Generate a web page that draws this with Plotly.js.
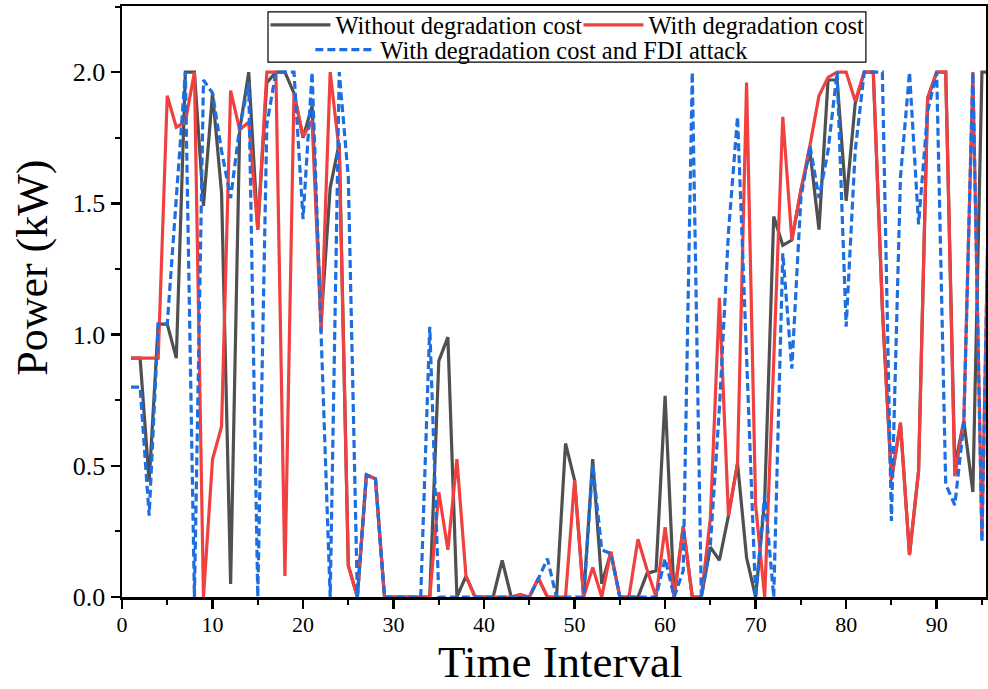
<!DOCTYPE html>
<html>
<head>
<meta charset="utf-8">
<script src="https://cdn.plot.ly/plotly-3.0.1.min.js"></script>
<style>html,body{margin:0;padding:0;background:#fff;}#chart{width:988px;height:689px;}</style>
</head>
<body>
<div id="chart"></div>
<script>
// Time intervals 1..96
const timeIntervals = Array.from({length: 96}, (_, i) => i + 1);

const seriesNames = ["Without degradation cost", "With degradation cost", "With degradation cost and FDI attack"];

const withoutDegradation = [
  0.91, 0.91, 0.44, 1.04, 1.04, 0.91, 2.00, 2.00, 1.49, 1.92,
  1.54, 0.05, 1.78, 2.00, 1.40, 1.96, 2.00, 2.00, 1.92, 1.75,
  1.87, 1.05, 1.56, 1.73, 0.12, 0.00, 0.465, 0.45, 0.00, 0.00,
  0.00, 0.00, 0.00, 0.00, 0.90, 0.99, 0.00, 0.08, 0.00, 0.00,
  0.00, 0.14, 0.00, 0.00, 0.00, 0.07, 0.00, 0.00, 0.585, 0.445,
  0.00, 0.525, 0.05, 0.17, 0.00, 0.00, 0.00, 0.09, 0.10, 0.767,
  0.00, 0.27, 0.00, 0.00, 0.19, 0.14, 0.31, 0.51, 0.15, 0.00,
  0.37, 1.45, 1.34, 1.36, 1.55, 1.70, 1.40, 1.97, 1.97, 1.51,
  1.88, 2.00, 2.00, 1.10, 0.45, 0.66, 0.16, 0.48, 1.90, 2.00,
  2.00, 0.50, 0.67, 0.40, 2.00, 2.00
];

const withDegradation = [
  0.91, 0.91, 0.91, 0.91, 1.91, 1.79, 1.81, 2.00, 0.00, 0.525,
  0.65, 1.93, 1.78, 1.81, 1.40, 2.00, 2.00, 0.08, 1.92, 1.755,
  1.815, 1.01, 2.00, 1.70, 0.12, 0.00, 0.465, 0.45, 0.00, 0.00,
  0.00, 0.00, 0.00, 0.00, 0.40, 0.18, 0.525, 0.08, 0.00, 0.00,
  0.00, 0.00, 0.00, 0.01, 0.00, 0.073, 0.00, 0.00, 0.00, 0.445,
  0.00, 0.113, 0.00, 0.173, 0.00, 0.00, 0.22, 0.105, 0.00, 0.266,
  0.00, 0.266, 0.00, 0.00, 0.30, 1.14, 0.31, 0.51, 1.96, 0.35,
  0.00, 0.90, 1.83, 1.36, 1.55, 1.72, 1.91, 1.98, 2.00, 2.00,
  1.89, 2.00, 2.00, 1.10, 0.445, 0.665, 0.16, 0.48, 1.90, 2.00,
  2.00, 0.46, 0.67, 2.00, 0.23, 2.00
];

const withFDIAttack = [
  0.80, 0.80, 0.31, 1.04, 1.04, 1.50, 2.00, 0.00, 1.97, 1.92,
  1.70, 1.52, 1.79, 1.96, 0.00, 1.80, 2.00, 2.00, 2.00, 1.44,
  2.00, 1.00, 0.00, 2.00, 1.60, 0.00, 0.465, 0.45, 0.00, 0.00,
  0.00, 0.00, 0.00, 1.03, 0.00, 0.00, 0.00, 0.00, 0.00, 0.00,
  0.00, 0.00, 0.00, 0.00, 0.00, 0.07, 0.146, 0.00, 0.00, 0.00,
  0.00, 0.505, 0.18, 0.166, 0.00, 0.00, 0.00, 0.00, 0.00, 0.146,
  0.00, 0.10, 2.00, 0.00, 0.20, 0.72, 1.39, 1.83, 0.95, 0.00,
  0.39, 0.00, 1.31, 0.87, 1.52, 1.72, 1.52, 1.70, 2.00, 1.03,
  1.70, 2.00, 2.00, 2.00, 0.29, 1.60, 2.00, 1.42, 1.85, 2.00,
  0.43, 0.35, 0.66, 2.00, 0.21, 2.00
];

const xTickVals = [0, 10, 20, 30, 40, 50, 60, 70, 80, 90];
const yTickVals = [0, 0.5, 1.0, 1.5, 2.0];

const FONT = "'Liberation Serif', 'Times New Roman', serif";

const traces = [
  {x: timeIntervals, y: withoutDegradation, name: seriesNames[0], type: 'scatter', mode: 'lines',
   legend: 'legend', line: {color: 'rgb(80,80,80)', width: 3.2}},
  {x: timeIntervals, y: withDegradation, name: seriesNames[1], type: 'scatter', mode: 'lines',
   legend: 'legend', line: {color: 'rgb(240,64,64)', width: 3.2}},
  {x: timeIntervals, y: withFDIAttack, name: seriesNames[2], type: 'scatter', mode: 'lines',
   legend: 'legend2', line: {color: 'rgb(28,110,225)', width: 3.2, dash: '8px,4px'}}
];

const legendFont = {family: FONT, size: 24.5, color: '#000'};

const layout = {
  width: 988, height: 689,
  margin: {l: 122, r: 2, t: 6, b: 92},
  paper_bgcolor: '#fff', plot_bgcolor: '#fff',
  font: {family: FONT, color: '#000', size: 24},
  showlegend: true,
  legend: {
    orientation: 'h', x: 0.166, y: 1.006, xanchor: 'left', yanchor: 'top',
    bgcolor: 'rgba(0,0,0,0)', borderwidth: 0, font: legendFont,
    entrywidth: 238, entrywidthmode: 'pixels', tracegroupgap: 0, itemwidth: 60
  },
  legend2: {
    orientation: 'h', x: 0.218, y: 0.964, xanchor: 'left', yanchor: 'top',
    bgcolor: 'rgba(0,0,0,0)', borderwidth: 0, font: legendFont, itemwidth: 60
  },
  shapes: [
    {type: 'rect', xref: 'paper', yref: 'paper', x0: 0.169, x1: 0.861, y0: 0.905, y1: 0.990,
     line: {color: '#000', width: 1.2}, fillcolor: '#fff', layer: 'above'}
  ],
  annotations: [
    {text: 'Power (kW)', xref: 'paper', yref: 'paper', x: -0.103, y: 0.557, textangle: -90,
     showarrow: false, font: {family: FONT, size: 44, color: '#000'}, xanchor: 'center', yanchor: 'middle'},
    {text: 'Time Interval', xref: 'paper', yref: 'paper', x: 0.508, y: -0.1535,
     showarrow: false, font: {family: FONT, size: 45, color: '#000'}, xanchor: 'center', yanchor: 'bottom',
     borderpad: 0}
  ],
  xaxis: {
    range: [0, 95.45], tickvals: xTickVals, ticktext: xTickVals.map(String),
    showline: true, mirror: true, linecolor: '#000', linewidth: 2.5,
    ticks: 'outside', ticklen: 9, tickwidth: 2.5, tickcolor: '#000', ticklabelstandoff: -3,
    minor: {ticks: 'outside', ticklen: 5, tickwidth: 2, tickcolor: '#000', dtick: 5, tick0: 0, showgrid: false},
    showgrid: false, zeroline: false,
    tickfont: {family: FONT, size: 22}
  },
  yaxis: {
    range: [0, 2.252], tickvals: yTickVals, ticktext: yTickVals.map(v => v.toFixed(1)),
    showline: true, mirror: true, linecolor: '#000', linewidth: 2.5,
    ticks: 'outside', ticklen: 9, tickwidth: 2.5, tickcolor: '#000',
    minor: {ticks: 'outside', ticklen: 5, tickwidth: 2, tickcolor: '#000', dtick: 0.25, tick0: 0, showgrid: false},
    showgrid: false, zeroline: false,
    tickfont: {family: FONT, size: 26}
  }
};

Plotly.newPlot('chart', traces, layout, {displayModeBar: false, staticPlot: true});
</script>
</body>
</html>
